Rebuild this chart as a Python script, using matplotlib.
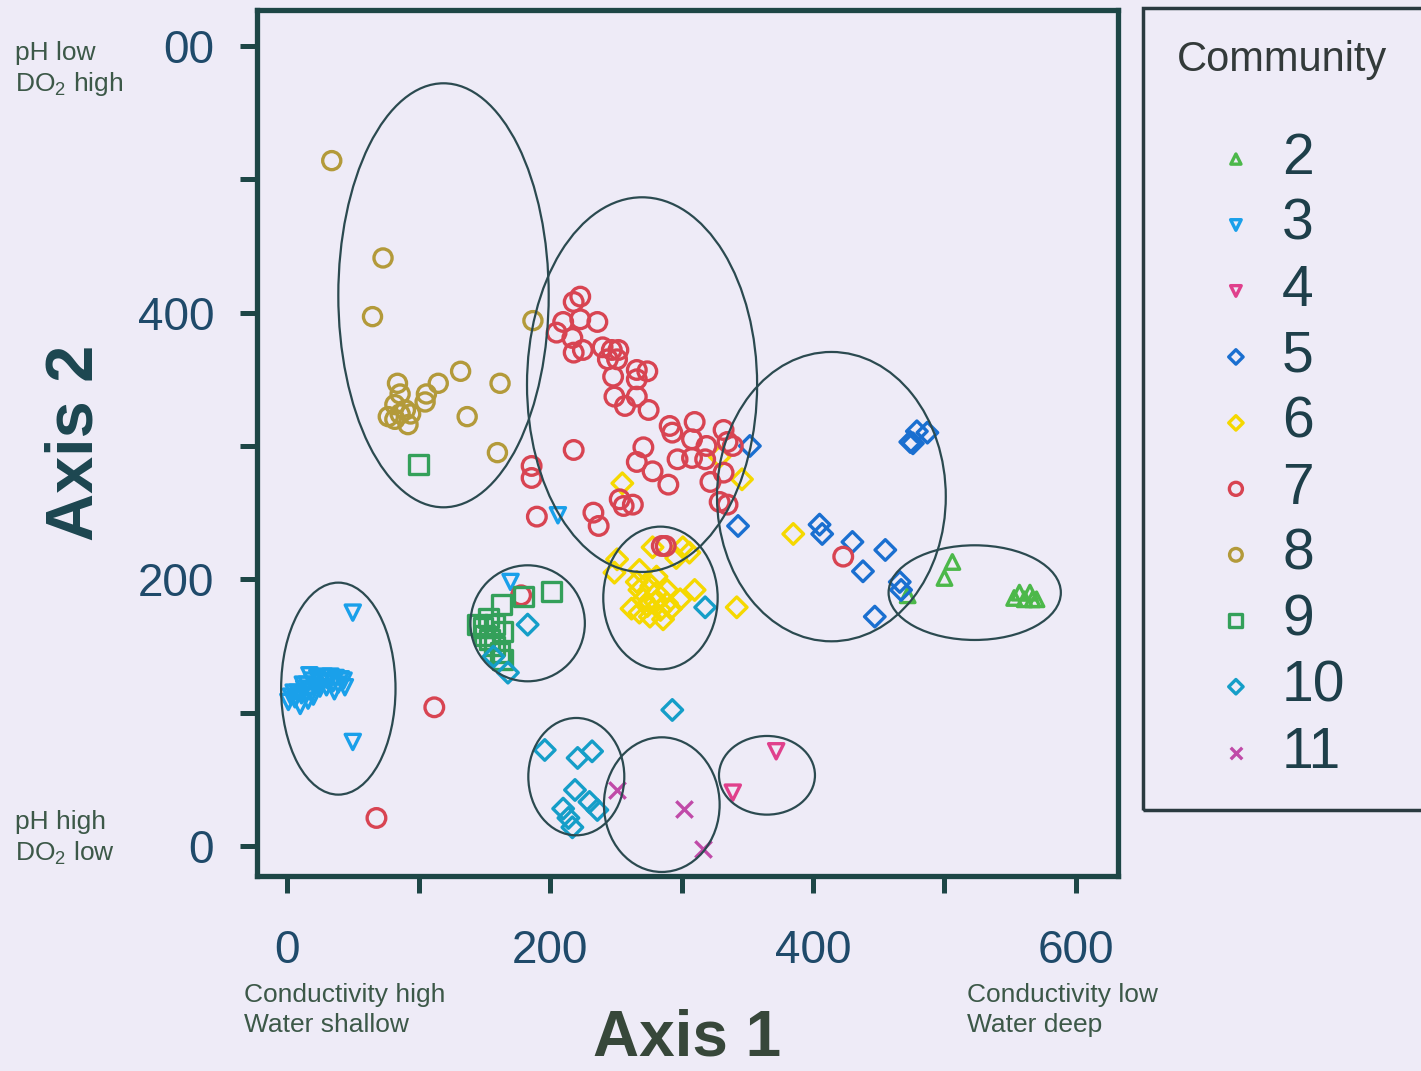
import matplotlib.pyplot as plt
from matplotlib.patches import Ellipse, Rectangle

plt.rcParams['font.family'] = ['Liberation Sans', 'DejaVu Sans']
plt.rcParams['mathtext.fontset'] = 'custom'
plt.rcParams['mathtext.rm'] = 'Liberation Sans'

# ordination scores per community (Axis 1, Axis 2)
c2_x = [472, 500, 506, 553, 557, 561, 565, 567, 570]
c2_y = [188, 201, 213, 186, 190, 185, 190, 185, 185]

c3_x = [1, 3, 6, 8, 11, 13, 15, 17, 19, 21, 23, 26, 28, 31, 33, 35, 37, 39, 41, 43, 44, 36, 30, 20, 16, 10, 17,
        25, 12, 5, 50, 50, 170, 206]
c3_y = [108, 112, 110, 115, 113, 118, 121, 116, 124, 120, 126, 123, 127, 124, 127, 122, 126, 121, 125, 124, 119, 116,
        119, 112, 109, 105, 128, 118, 121, 115, 175, 78, 198, 248]

c4_x = [339, 372]
c4_y = [40, 71]

c5_x = [352, 343, 405, 407, 430, 438, 455, 447, 466, 467, 474, 479, 487, 476]
c5_y = [300, 240, 241, 234, 228, 206, 222, 172, 198, 192, 303, 311, 310, 302]

c6_x = [278, 301, 306, 296, 251, 249, 268, 281, 266, 289, 299, 310, 268, 276, 284, 289, 271, 281, 268, 286, 342,
        255, 329, 346, 385, 274, 280, 262, 277, 292]
c6_y = [224, 224, 220, 216, 215, 205, 207, 202, 198, 192, 185, 192, 175, 172, 177, 182, 185, 190, 192, 170, 179,
        272, 292, 275, 234, 180, 183, 178, 195, 178]

c7_x = [223, 218, 210, 223, 236, 205, 217, 225, 218, 240, 247, 252, 244, 251, 248, 266, 274, 266, 249, 257, 266,
        275, 291, 293, 310, 332, 308, 319, 297, 308, 318, 335, 339, 271, 218, 266, 278, 290, 322, 332, 186, 186,
        253, 263, 256, 329, 335, 190, 233, 237, 285, 178, 112, 68, 423, 288]
c7_y = [412, 408, 393, 395, 393, 385, 381, 372, 370, 374, 372, 372, 365, 365, 352, 357, 356, 350, 337, 330, 337,
        327, 315, 310, 318, 312, 305, 300, 290, 291, 290, 303, 300, 299, 297, 288, 281, 271, 273, 280, 285, 276,
        260, 256, 255, 258, 256, 247, 250, 240, 225, 188, 104, 21, 217, 225]

c8_x = [34, 73, 65, 187, 132, 162, 115, 84, 106, 105, 86, 77, 92, 137, 160, 82, 90, 86, 82, 94]
c8_y = [514, 441, 397, 394, 356, 347, 347, 347, 339, 333, 324, 322, 316, 322, 295, 331, 327, 339, 320, 324]

c9_x = [100, 163, 149, 164, 154, 162, 164, 145, 153, 158, 180, 201, 150, 158]
c9_y = [286, 181, 164, 161, 155, 145, 140, 166, 171, 166, 187, 191, 158, 150]

c10_x = [196, 221, 232, 219, 230, 236, 210, 214, 217, 293, 183, 157, 168, 318]
c10_y = [72, 66, 71, 42, 33, 27, 28, 21, 14, 102, 166, 142, 130, 179]

c11_x = [251, 302, 316]
c11_y = [42, 28, -2]

communities = ['2', '3', '4', '5', '6', '7', '8', '9', '10', '11']
xs = [c2_x, c3_x, c4_x, c5_x, c6_x, c7_x, c8_x, c9_x, c10_x, c11_x]
ys = [c2_y, c3_y, c4_y, c5_y, c6_y, c7_y, c8_y, c9_y, c10_y, c11_y]

# group ellipses: centre, width, height
ell_x = [119, 270, 414, 523, 39, 183, 284, 220, 285, 365]
ell_y = [413, 346, 262, 190, 118, 167, 186, 52, 31, 53]
ell_w = [160, 175, 174, 131, 87, 87, 87, 73, 88, 73]
ell_h = [318, 281, 217, 71, 159, 87, 107, 88, 101, 59]

x_ticks = [0, 100, 200, 300, 400, 500, 600]
x_ticklabels = ['0', '', '200', '', '400', '', '600']
y_ticks = [0, 100, 200, 300, 400, 500, 600]
y_ticklabels = ['0', '', '200', '', '400', '', '00']

colors = ['#4cb84a', '#1aa0ea', '#e0408c', '#1a6fd0', '#f5d800', '#d84452', '#b39a3a', '#34a05a', '#159ec8', '#c04aa8']
markers = ['^', 'v', 'v', 'D', 'D', 'o', 'o', 's', 'D', 'x']
sizes = [110, 120, 120, 110, 110, 180, 170, 180, 110, 140]

bg = '#eeebf7'
frame = '#1d4646'
tick_col = '#1f4a6a'
note_col = '#3c5848'

fig = plt.figure(figsize=(14.21, 10.71), dpi=100, facecolor=bg)
ax = fig.add_axes([0.1809, 0.1821, 0.6059, 0.8086], facecolor=bg)

handles = []
for x, y, c, m, s in zip(xs, ys, colors, markers, sizes):
    if m == 'x':
        h = ax.scatter(x, y, s=s, marker=m, color=c, linewidths=2.4, zorder=3)
    else:
        h = ax.scatter(x, y, s=s, marker=m, facecolors='none', edgecolors=c, linewidths=2.4, zorder=3)
    handles.append(h)

for ex, ey, ew, eh in zip(ell_x, ell_y, ell_w, ell_h):
    ax.add_patch(Ellipse((ex, ey), ew, eh, fill=False, edgecolor='#2b4a50', linewidth=1.6, zorder=4))

ax.set_xlim(-22.8, 632)
ax.set_ylim(-22.5, 627)
ax.set_xticks(x_ticks)
ax.set_yticks(y_ticks)
ax.set_xticklabels(x_ticklabels, fontsize=33, color=tick_col)
ax.set_yticklabels(y_ticklabels, fontsize=33, color=tick_col)
ax.tick_params(axis='x', direction='out', length=12, width=3.6, color=frame, pad=26)
ax.tick_params(axis='y', direction='out', length=12, width=3.6, color=frame, pad=19)
for sp in ax.spines.values():
    sp.set_linewidth(3.8)
    sp.set_color(frame)

ax.set_xlabel('Axis 1', fontsize=46, fontweight='bold', color='#37473a', labelpad=26)
ax.set_ylabel('Axis 2', fontsize=48, fontweight='bold', color='#1c4650', labelpad=22)

# gradient notes at the ends of each axis
fig.text(15 / 1421, 1 - 41 / 1071, 'pH low\nDO$_2$ high', fontsize=19, color=note_col,
         ha='left', va='top', linespacing=1.25)
fig.text(15 / 1421, 1 - 810 / 1071, 'pH high\nDO$_2$ low', fontsize=19, color=note_col,
         ha='left', va='top', linespacing=1.25)
fig.text(244 / 1421, 1 - 983 / 1071, 'Conductivity high\nWater shallow', fontsize=19, color=note_col,
         ha='left', va='top', linespacing=1.3)
fig.text(967 / 1421, 1 - 983 / 1071, 'Conductivity low\nWater deep', fontsize=19, color=note_col,
         ha='left', va='top', linespacing=1.3)

# legend box running off the right edge
fig.patches.append(Rectangle((1143 / 1421, 1 - 810 / 1071), 0.3, 802 / 1071, fill=False,
                             edgecolor='#2a3a40', linewidth=2.5, transform=fig.transFigure))
fig.text(1282 / 1421, 1 - 60 / 1071, 'Community', fontsize=30, color='#333a3a', ha='center', va='center')
leg = fig.legend(handles, communities, loc='upper left', bbox_to_anchor=(1208 / 1421, 1 - 132 / 1071),
                 frameon=False, fontsize=41, markerscale=0.7, handlelength=0.98, handletextpad=0.32,
                 labelspacing=0.21, borderpad=0, borderaxespad=0)
for t in leg.get_texts():
    t.set_color('#1e3f4a')

fig.savefig('out.png', dpi=100, facecolor=bg)
